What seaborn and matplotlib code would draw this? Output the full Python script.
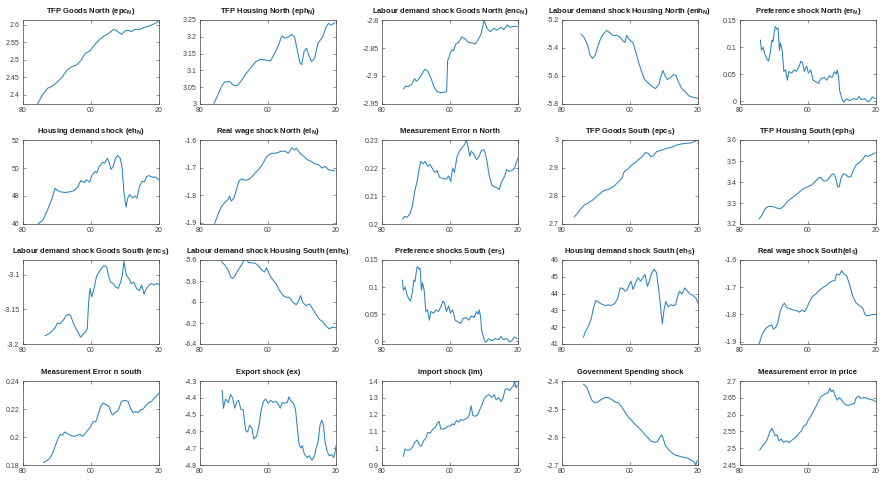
import matplotlib
matplotlib.use("Agg")
import matplotlib.pyplot as plt
import seaborn as sns
from matplotlib.ticker import FuncFormatter

# ---- data (year, value) ----
epc_N_yr = [1984.2, 1985.8, 1987.2, 1988.6, 1990.1, 1991.5, 1992.9, 1994.3, 1995.8, 1997.2, 1998.3, 1999.6,
            2001.0, 2002.4, 2003.8, 2005.3, 2006.5, 2007.2, 2008.1, 2009.1, 2010.0, 2011.0, 2011.9, 2012.9,
            2014.3, 2015.7, 2017.1, 2018.6, 2019.8]
epc_N = [2.372, 2.40, 2.418, 2.424, 2.436, 2.45, 2.47, 2.48, 2.485, 2.50, 2.518, 2.525,
         2.542, 2.557, 2.568, 2.576, 2.586, 2.586, 2.579, 2.573, 2.583, 2.584, 2.581, 2.587,
         2.587, 2.593, 2.597, 2.603, 2.61]

eph_N_yr = [1984.1, 1985.3, 1986.3, 1987.2, 1988.7, 1989.6, 1990.8, 1992.0, 1993.5, 1994.9, 1996.4, 1997.8,
            1999.3, 2000.7, 2001.7, 2002.9, 2004.1, 2004.9, 2006.0, 2007.0, 2007.8, 2008.6, 2009.4, 2009.9,
            2010.6, 2011.3, 2012.0, 2012.8, 2013.7, 2014.7, 2016.1, 2017.1, 2017.8, 2018.6, 2019.7]
eph_N = [3.002, 3.028, 3.052, 3.065, 3.067, 3.057, 3.054, 3.067, 3.09, 3.107, 3.126, 3.133,
         3.131, 3.128, 3.146, 3.171, 3.203, 3.196, 3.20, 3.207, 3.20, 3.161, 3.122, 3.117,
         3.156, 3.166, 3.146, 3.126, 3.136, 3.181, 3.20, 3.23, 3.24, 3.235, 3.242]

enc_N_yr = [1986.3, 1987.0, 1987.6, 1988.6, 1989.0, 1989.6, 1990.1, 1990.6, 1991.6, 1992.6, 1993.4, 1994.4,
            1995.4, 1996.3, 1997.3, 1998.3, 1999.0, 1999.3, 1999.7, 2000.0, 2000.5, 2001.0, 2001.7, 2002.5,
            2003.5, 2004.5, 2005.4, 2006.4, 2007.4, 2008.4, 2009.2, 2010.0, 2010.9, 2011.9, 2012.9,
            2013.9, 2014.9, 2015.8, 2016.8, 2017.8, 2018.8, 2019.8]
enc_N = [-2.923, -2.918, -2.919, -2.916, -2.912, -2.905, -2.909, -2.907, -2.898, -2.888, -2.891, -2.904,
         -2.921, -2.928, -2.93, -2.929, -2.928, -2.873, -2.866, -2.861, -2.853, -2.855, -2.843, -2.84,
         -2.83, -2.834, -2.84, -2.841, -2.843, -2.834, -2.824, -2.801, -2.815, -2.821, -2.815,
         -2.818, -2.813, -2.817, -2.809, -2.813, -2.811, -2.812]

enh_N_yr = [1985.5, 1986.5, 1987.5, 1988.2, 1989.0, 1989.8, 1990.5, 1991.5, 1992.5, 1993.2, 1994.0, 1995.0,
            1996.0, 1997.0, 1998.0, 1998.5, 1999.0, 1999.8, 2000.8, 2001.5, 2002.5, 2003.5, 2004.3, 2005.3,
            2006.5, 2007.5, 2008.5, 2009.2, 2009.7, 2010.3, 2011.0, 2012.0, 2012.8, 2013.5, 2014.2,
            2015.2, 2016.2, 2017.2, 2018.2, 2019.2, 2020.0]
enh_N = [-5.30, -5.325, -5.375, -5.45, -5.475, -5.45, -5.39, -5.325, -5.29, -5.275, -5.29, -5.31,
         -5.31, -5.32, -5.35, -5.36, -5.31, -5.34, -5.36, -5.41, -5.50, -5.575, -5.625, -5.65,
         -5.675, -5.69, -5.66, -5.595, -5.56, -5.60, -5.625, -5.61, -5.59, -5.595, -5.64,
         -5.69, -5.71, -5.74, -5.75, -5.755, -5.76]

er_yr = [1986.0, 1986.3, 1986.8, 1987.3, 1987.9, 1988.4, 1988.9, 1989.4, 1989.7, 1990.1, 1990.4, 1990.9,
         1991.2, 1991.6, 1991.9, 1992.4, 1992.9, 1993.4, 1993.9, 1994.4, 1995.2, 1995.9, 1996.6, 1997.4,
         1997.9, 1998.4, 1998.9, 1999.6, 2000.1, 2000.8, 2001.5, 2002.3, 2003.1, 2003.8, 2004.8,
         2005.5, 2006.3, 2007.1, 2007.8, 2008.3, 2008.6, 2009.0, 2009.3, 2010.0, 2010.5, 2011.3,
         2012.3, 2013.3, 2014.3, 2015.0, 2015.7, 2016.7, 2017.5, 2018.2, 2018.9, 2019.7]
er_N = [0.113, 0.094, 0.100, 0.087, 0.078, 0.074, 0.090, 0.113, 0.110, 0.129, 0.138, 0.133,
        0.135, 0.094, 0.108, 0.094, 0.055, 0.058, 0.039, 0.055, 0.052, 0.058, 0.055, 0.065,
        0.074, 0.071, 0.055, 0.065, 0.052, 0.058, 0.039, 0.036, 0.033, 0.042, 0.044,
        0.039, 0.047, 0.044, 0.055, 0.050, 0.058, 0.045, 0.020, 0.0045, -0.002, 0.0045,
        0.001, 0.005, 0.003, 0.009, 0.003, 0.005, -0.001, 0.001, 0.008, 0.005]
er_S = list(er_N)  # the two preference shock panels are the same in the source

eh_N_yr = [1984.2, 1985.8, 1987.2, 1988.5, 1989.4, 1990.1, 1991.0, 1992.4, 1993.9, 1995.1, 1996.1, 1997.0,
           1998.0, 1998.6, 1999.6, 2000.2, 2001.2, 2001.7, 2002.4, 2003.4, 2004.0, 2004.8, 2005.4,
           2005.9, 2006.5, 2007.2, 2007.8, 2008.6, 2009.2, 2009.7, 2010.3, 2010.8, 2011.4, 2012.2,
           2012.9, 2013.5, 2014.3, 2015.0, 2015.7, 2016.4, 2017.1, 2018.1, 2019.0, 2020.0]
eh_N = [45.95, 46.27, 47.0, 47.8, 48.55, 48.4, 48.3, 48.25, 48.3, 48.4, 48.65, 49.1,
        48.95, 49.15, 49.0, 49.45, 49.75, 49.65, 50.1, 50.4, 50.35, 50.7, 50.35,
        49.9, 50.1, 50.7, 50.9, 50.7, 49.9, 48.2, 47.2, 47.85, 48.1, 47.85,
        48.0, 47.85, 48.7, 49.05, 49.0, 49.4, 49.45, 49.35, 49.35, 49.15]

el_N_yr = [1984.3, 1985.3, 1986.3, 1987.2, 1988.2, 1988.7, 1989.2, 1989.9, 1990.6, 1991.4, 1992.3, 1993.3,
           1994.3, 1995.2, 1996.2, 1997.2, 1998.3, 1999.3, 2000.2, 2001.2, 2002.4, 2003.6, 2004.9,
           2006.0, 2007.0, 2007.8, 2008.4, 2009.4, 2010.6, 2011.6, 2012.8, 2013.7, 2014.9, 2015.9,
           2016.8, 2017.8, 2018.7, 2019.7]
el_N = [-1.903, -1.87, -1.842, -1.828, -1.816, -1.804, -1.822, -1.813, -1.786, -1.75, -1.741, -1.746,
        -1.744, -1.734, -1.72, -1.708, -1.69, -1.666, -1.654, -1.648, -1.648, -1.642, -1.64,
        -1.648, -1.628, -1.636, -1.63, -1.648, -1.66, -1.672, -1.678, -1.686, -1.69, -1.702,
        -1.696, -1.708, -1.71, -1.712]

men_N_yr = [1986.0, 1986.7, 1987.4, 1988.2, 1988.9, 1989.6, 1990.4, 1990.9, 1991.4, 1992.1, 1992.7, 1993.4,
            1994.2, 1994.9, 1995.6, 1996.2, 1996.9, 1997.9, 1998.9, 1999.6, 2000.2, 2000.8, 2001.3,
            2002.1, 2002.8, 2003.5, 2004.3, 2004.8, 2005.3, 2005.8, 2006.3, 2007.1, 2007.8, 2008.5,
            2009.3, 2010.1, 2010.8, 2011.5, 2012.3, 2013.1, 2013.8, 2014.5, 2015.2, 2016.0, 2016.7,
            2017.4, 2018.2, 2019.0, 2019.5, 2020.0]
men_N = [0.2017, 0.2027, 0.2024, 0.2036, 0.2063, 0.2115, 0.2157, 0.2194, 0.2224, 0.2215, 0.2224, 0.2206,
         0.2212, 0.2196, 0.2184, 0.2191, 0.2167, 0.2163, 0.2160, 0.2172, 0.2151, 0.2200, 0.2184,
         0.2242, 0.2260, 0.2272, 0.2284, 0.2300, 0.2278, 0.2242, 0.2260, 0.2248, 0.2230, 0.2240,
         0.2264, 0.2264, 0.2230, 0.2175, 0.2139, 0.2133, 0.2129, 0.2123, 0.2151, 0.2169, 0.2194,
         0.2188, 0.2191, 0.2200, 0.2220, 0.2236]

epc_S_yr = [1983.6, 1984.4, 1985.4, 1986.6, 1987.8, 1989.3, 1990.7, 1992.2, 1993.7, 1995.1, 1996.6, 1997.6,
            1998.3, 1999.3, 2000.5, 2001.5, 2002.4, 2003.6, 2004.4, 2005.4, 2006.1, 2006.8, 2007.8,
            2009.3, 2010.7, 2012.2, 2013.7, 2015.1, 2016.6, 2018.0, 2019.5]
epc_S = [2.726, 2.736, 2.752, 2.768, 2.776, 2.788, 2.804, 2.819, 2.824, 2.833, 2.851, 2.863,
         2.887, 2.895, 2.911, 2.919, 2.929, 2.94, 2.955, 2.952, 2.94, 2.943, 2.958,
         2.964, 2.97, 2.974, 2.982, 2.986, 2.988, 2.99, 2.998]

eph_S_yr = [1985.6, 1986.4, 1987.4, 1988.4, 1989.6, 1990.6, 1991.8, 1992.8, 1993.8, 1995.0, 1996.3, 1997.5,
            1998.7, 2000.0, 2001.0, 2002.0, 2003.0, 2003.7, 2004.5, 2005.5, 2006.2, 2006.9, 2007.6,
            2008.2, 2008.7, 2009.2, 2009.7, 2010.4, 2011.2, 2011.9, 2012.6, 2013.4, 2014.2, 2015.2,
            2016.2, 2016.8, 2017.8, 2018.8, 2019.8]
eph_S = [3.224, 3.24, 3.273, 3.284, 3.284, 3.277, 3.273, 3.284, 3.305, 3.321, 3.337, 3.353,
         3.369, 3.377, 3.385, 3.40, 3.418, 3.423, 3.406, 3.405, 3.418, 3.434, 3.439,
         3.418, 3.377, 3.377, 3.418, 3.439, 3.434, 3.423, 3.426, 3.458, 3.482, 3.494,
         3.51, 3.526, 3.523, 3.531, 3.539]

enc_S_yr = [1986.5, 1987.4, 1988.4, 1989.4, 1990.1, 1990.9, 1991.8, 1992.6, 1993.3, 1994.0, 1994.8, 1995.6,
            1996.2, 1996.9, 1997.7, 1998.5, 1998.9, 1999.3, 1999.7, 2000.2, 2000.9, 2001.6, 2002.4,
            2003.1, 2003.8, 2004.6, 2005.2, 2005.8, 2006.5, 2007.3, 2008.0, 2008.7, 2009.2, 2009.7,
            2010.4, 2011.2, 2011.9, 2012.6, 2013.4, 2014.2, 2014.9, 2015.6, 2016.3, 2017.1, 2017.8,
            2018.5, 2019.3, 2020.0]
enc_S = [-3.188, -3.186, -3.182, -3.177, -3.170, -3.171, -3.166, -3.160, -3.157, -3.159, -3.170, -3.178,
         -3.183, -3.190, -3.186, -3.182, -3.178, -3.140, -3.120, -3.132, -3.120, -3.103, -3.096,
         -3.091, -3.087, -3.089, -3.103, -3.111, -3.113, -3.118, -3.120, -3.111, -3.101, -3.081,
         -3.101, -3.106, -3.113, -3.111, -3.120, -3.123, -3.115, -3.128, -3.120, -3.115, -3.113,
         -3.115, -3.113, -3.114]

enh_S_yr = [1986.3, 1987.3, 1988.3, 1989.0, 1989.6, 1990.2, 1991.2, 1992.2, 1993.0, 1993.7, 1994.3, 1995.3,
            1996.3, 1997.3, 1998.2, 1999.0, 1999.6, 2000.5, 2001.5, 2002.4, 2003.4, 2004.4, 2005.4,
            2006.3, 2007.3, 2008.3, 2009.0, 2009.6, 2010.2, 2011.2, 2012.2, 2013.2, 2014.1, 2015.1,
            2016.1, 2017.1, 2018.0, 2019.0, 2020.0]
enh_S = [-5.616, -5.648, -5.697, -5.761, -5.777, -5.755, -5.697, -5.648, -5.60, -5.594, -5.626, -5.626,
         -5.632, -5.658, -5.697, -5.713, -5.674, -5.745, -5.794, -5.826, -5.89, -5.939, -5.955,
         -5.955, -6.003, -6.026, -5.987, -5.939, -6.003, -6.035, -6.019, -6.068, -6.116, -6.165,
         -6.187, -6.229, -6.255, -6.239, -6.245]

eh_S_yr = [1986.3, 1986.8, 1987.8, 1988.6, 1989.3, 1990.0, 1990.7, 1991.7, 1992.7, 1993.7, 1994.6, 1995.6,
           1996.4, 1997.1, 1997.9, 1998.5, 1999.2, 1999.8, 2000.3, 2000.9, 2001.6, 2002.4, 2003.1,
           2003.9, 2004.4, 2005.1, 2005.7, 2006.3, 2007.1, 2007.8, 2008.5, 2009.1, 2009.5, 2010.0,
           2010.5, 2011.2, 2012.0, 2012.7, 2013.4, 2014.0, 2014.6, 2015.3, 2016.1, 2016.8, 2017.6,
           2018.5, 2019.5, 2020.0]
eh_S = [41.4, 41.7, 42.07, 42.5, 43.2, 43.6, 43.5, 43.37, 43.29, 43.33, 43.29, 43.43,
        43.73, 44.34, 44.3, 44.14, 44.24, 44.54, 44.74, 44.24, 44.64, 44.95, 44.74,
        44.99, 45.15, 44.44, 44.74, 45.19, 45.45, 45.25, 44.14, 43.02, 42.21, 43.02,
        43.53, 43.23, 43.33, 43.29, 43.33, 43.83, 44.14, 43.98, 44.34, 44.18, 43.98,
        43.9, 43.7, 43.43]

el_S_yr = [1985.6, 1986.6, 1987.6, 1988.6, 1989.4, 1989.8, 1990.6, 1991.1, 1991.8, 1992.6, 1993.1, 1993.8,
           1994.8, 1995.7, 1996.7, 1997.5, 1998.3, 1999.0, 1999.7, 2000.5, 2001.3, 2002.3, 2003.3,
           2004.3, 2005.2, 2006.2, 2007.2, 2007.9, 2008.4, 2009.2, 2009.9, 2010.6, 2011.4, 2012.2,
           2013.2, 2014.2, 2015.1, 2016.1, 2016.8, 2017.5, 2018.5, 2019.8]
el_S = [-1.909, -1.871, -1.852, -1.842, -1.84, -1.855, -1.846, -1.83, -1.79, -1.765, -1.759, -1.775,
        -1.78, -1.784, -1.787, -1.792, -1.784, -1.79, -1.775, -1.752, -1.734, -1.725, -1.712,
        -1.702, -1.696, -1.684, -1.677, -1.675, -1.652, -1.655, -1.64, -1.652, -1.659, -1.69,
        -1.734, -1.759, -1.767, -1.777, -1.802, -1.805, -1.802, -1.80]

mes_S_yr = [1986.0, 1986.9, 1987.9, 1988.7, 1989.4, 1990.1, 1990.9, 1991.6, 1992.3, 1993.1, 1994.0, 1995.0,
            1995.9, 1996.7, 1997.5, 1998.3, 1999.2, 1999.9, 2000.6, 2001.4, 2002.1, 2002.8, 2003.6,
            2004.5, 2005.3, 2005.8, 2006.3, 2007.0, 2007.7, 2008.3, 2008.9, 2009.9, 2010.9, 2011.6,
            2012.4, 2013.2, 2013.9, 2014.5, 2015.3, 2016.3, 2017.1, 2017.8, 2018.4, 2019.2, 2020.0]
mes_S = [0.1818, 0.1830, 0.1847, 0.1883, 0.1932, 0.1975, 0.2019, 0.2012, 0.2036, 0.2024, 0.2012, 0.2004,
         0.2012, 0.2019, 0.2004, 0.2024, 0.2053, 0.2073, 0.2109, 0.2109, 0.2157, 0.2218, 0.2242,
         0.2230, 0.2218, 0.2182, 0.2157, 0.2174, 0.2182, 0.2206, 0.2254, 0.2262, 0.2254, 0.2206,
         0.2174, 0.2182, 0.2174, 0.2194, 0.2199, 0.2230, 0.2247, 0.2254, 0.2271, 0.2291, 0.2315]

ex_yr = [1986.5, 1986.9, 1987.5, 1988.3, 1989.0, 1989.6, 1990.2, 1990.9, 1991.4, 1992.0, 1992.7, 1993.4,
         1994.0, 1994.6, 1995.3, 1995.8, 1996.6, 1997.3, 1998.0, 1998.7, 1999.3, 2000.0, 2000.8,
         2001.5, 2002.2, 2002.9, 2003.6, 2004.2, 2004.9, 2005.7, 2006.1, 2006.8, 2007.5, 2008.1,
         2008.6, 2009.1, 2009.6, 2010.1, 2010.7, 2011.5, 2012.2, 2012.9, 2013.7, 2014.1, 2014.8,
         2015.3, 2015.8, 2016.3, 2016.8, 2017.4, 2018.0, 2018.7, 2019.3, 2019.8, 2020.0]
ex = [-4.355, -4.462, -4.407, -4.428, -4.381, -4.401, -4.462, -4.421, -4.415, -4.468, -4.472, -4.594,
      -4.604, -4.563, -4.583, -4.644, -4.63, -4.573, -4.472, -4.421, -4.407, -4.432, -4.415,
      -4.428, -4.421, -4.432, -4.462, -4.428, -4.432, -4.428, -4.395, -4.421, -4.432, -4.472,
      -4.573, -4.675, -4.699, -4.685, -4.735, -4.755, -4.745, -4.772, -4.745, -4.705, -4.654,
      -4.563, -4.533, -4.563, -4.664, -4.719, -4.745, -4.739, -4.755, -4.715, -4.685]

im_yr = [1986.3, 1986.8, 1987.4, 1988.1, 1988.8, 1989.6, 1990.3, 1991.1, 1991.6, 1992.2, 1992.8, 1993.5,
         1994.2, 1995.0, 1995.7, 1996.3, 1996.8, 1997.3, 1998.0, 1998.7, 1999.3, 2000.0, 2000.7,
         2001.2, 2001.9, 2002.6, 2003.2, 2003.9, 2004.6, 2005.2, 2005.7, 2006.2, 2006.7, 2007.4,
         2008.1, 2008.7, 2009.4, 2010.1, 2010.9, 2011.6, 2012.3, 2013.0, 2013.6, 2014.3, 2015.0,
         2015.6, 2016.2, 2016.9, 2017.5, 2018.2, 2018.7, 2019.0, 2019.4, 2019.8]
im = [0.951, 0.996, 0.988, 0.988, 1.002, 1.033, 1.049, 1.016, 1.012, 1.043, 1.057, 1.094,
      1.09, 1.114, 1.124, 1.151, 1.159, 1.114, 1.114, 1.118, 1.131, 1.131, 1.145,
      1.139, 1.165, 1.155, 1.171, 1.165, 1.176, 1.18, 1.20, 1.253, 1.196, 1.19,
      1.196, 1.227, 1.257, 1.298, 1.314, 1.318, 1.302, 1.318, 1.288, 1.302, 1.278,
      1.298, 1.349, 1.355, 1.343, 1.363, 1.369, 1.40, 1.359, 1.376]

gs_yr = [1986.3, 1987.3, 1988.0, 1988.8, 1989.6, 1990.5, 1991.2, 1991.9, 1992.7, 1993.7, 1994.6, 1995.6,
         1996.6, 1997.6, 1998.5, 1999.5, 2000.5, 2001.5, 2002.4, 2003.4, 2004.4, 2005.4, 2006.3,
         2007.3, 2008.1, 2008.8, 2009.3, 2009.8, 2010.4, 2011.2, 2012.2, 2013.2, 2014.1, 2015.1,
         2016.1, 2017.1, 2018.0, 2018.8, 2019.3, 2019.8]
gs = [-2.411, -2.423, -2.445, -2.469, -2.478, -2.475, -2.469, -2.463, -2.459, -2.459, -2.466, -2.475,
      -2.478, -2.493, -2.511, -2.529, -2.541, -2.555, -2.565, -2.577, -2.592, -2.604, -2.616,
      -2.619, -2.616, -2.601, -2.592, -2.607, -2.631, -2.643, -2.655, -2.664, -2.667, -2.671,
      -2.673, -2.676, -2.683, -2.689, -2.70, -2.683]

mep_yr = [1985.8, 1986.4, 1987.1, 1987.8, 1988.4, 1988.9, 1989.4, 1989.9, 1990.4, 1990.9, 1991.4, 1992.1,
          1992.8, 1993.6, 1994.4, 1995.0, 1995.7, 1996.5, 1997.3, 1998.1, 1998.8, 1999.5, 2000.0,
          2000.7, 2001.5, 2002.3, 2003.0, 2003.8, 2004.5, 2005.2, 2005.9, 2006.4, 2006.9, 2007.4,
          2007.9, 2008.6, 2009.2, 2009.9, 2010.6, 2011.4, 2012.2, 2012.9, 2013.6, 2014.2, 2014.9,
          2015.6, 2016.4, 2017.4, 2018.3, 2019.3, 2020.0]
mep = [2.494, 2.504, 2.512, 2.522, 2.537, 2.552, 2.559, 2.547, 2.537, 2.54, 2.522, 2.527,
       2.517, 2.522, 2.517, 2.522, 2.527, 2.534, 2.544, 2.552, 2.567, 2.57, 2.583,
       2.593, 2.608, 2.623, 2.638, 2.653, 2.658, 2.663, 2.665, 2.678, 2.668, 2.673,
       2.658, 2.643, 2.651, 2.643, 2.633, 2.628, 2.628, 2.631, 2.633, 2.651, 2.655,
       2.648, 2.651, 2.648, 2.645, 2.643, 2.638]

titles = [
    r"TFP Goods North (epc$_\mathbf{N}$)", r"TFP Housing North (eph$_\mathbf{N}$)",
    r"Labour demand shock Goods North (enc$_\mathbf{N}$)",
    r"Labour demand shock Housing North (enh$_\mathbf{N}$)", r"Preference shock North (er$_\mathbf{N}$)",
    r"Housing demand shock (eh$_\mathbf{N}$)", r"Real wage shock North (el$_\mathbf{N}$)",
    "Measurement Error n North", r"TFP Goods South (epc$_\mathbf{S}$)", r"TFP Housing South (eph$_\mathbf{S}$)",
    r"Labour demand shock Goods South (enc$_\mathbf{S}$)",
    r"Labour demand shock Housing South (enh$_\mathbf{S}$)", r"Preference shocks South (er$_\mathbf{S}$)",
    r"Housing demand shock South (eh$_\mathbf{S}$)", r"Real wage shock South(el$_\mathbf{S}$)",
    "Measurement Error n south", "Export shock (ex)", "Import shock (im)",
    "Government Spending shock", "Measurement error in price",
]
series = [
    (epc_N_yr, epc_N), (eph_N_yr, eph_N), (enc_N_yr, enc_N), (enh_N_yr, enh_N), (er_yr, er_N),
    (eh_N_yr, eh_N), (el_N_yr, el_N), (men_N_yr, men_N), (epc_S_yr, epc_S), (eph_S_yr, eph_S),
    (enc_S_yr, enc_S), (enh_S_yr, enh_S), (er_yr, er_S), (eh_S_yr, eh_S), (el_S_yr, el_S),
    (mes_S_yr, mes_S), (ex_yr, ex), (im_yr, im), (gs_yr, gs), (mep_yr, mep),
]
ylims = [
    (2.373, 2.614), (3.0, 3.25), (-2.95, -2.8), (-5.8, -5.2), (-0.005, 0.15),
    (46, 52), (-1.905, -1.6), (0.2, 0.23), (2.7, 3.0), (3.2, 3.6),
    (-3.2, -3.079), (-6.4, -5.6), (-0.005, 0.15), (41, 46), (-1.909, -1.6),
    (0.18, 0.24), (-4.8, -4.3), (0.9, 1.4), (-2.7, -2.4), (2.45, 2.7),
]
yticks = [
    [2.4, 2.45, 2.5, 2.55, 2.6], [3, 3.05, 3.1, 3.15, 3.2, 3.25], [-2.95, -2.9, -2.85, -2.8],
    [-5.8, -5.6, -5.4, -5.2], [0, 0.05, 0.1, 0.15],
    [46, 48, 50, 52], [-1.9, -1.8, -1.7, -1.6], [0.2, 0.21, 0.22, 0.23], [2.7, 2.8, 2.9, 3],
    [3.2, 3.3, 3.4, 3.5, 3.6],
    [-3.2, -3.15, -3.1], [-6.4, -6.2, -6, -5.8, -5.6], [0, 0.05, 0.1, 0.15], [41, 42, 43, 44, 45, 46],
    [-1.9, -1.8, -1.7, -1.6],
    [0.18, 0.2, 0.22, 0.24], [-4.8, -4.7, -4.6, -4.5, -4.4, -4.3], [0.9, 1, 1.1, 1.2, 1.3, 1.4],
    [-2.7, -2.6, -2.5, -2.4], [2.45, 2.5, 2.55, 2.6, 2.65, 2.7],
]
xticks = [1980, 2000, 2020]
xticklabels = ["80", "00", "20"]

sns.set_style("ticks")
plt.rcParams.update({
    "font.family": ["Liberation Sans", "DejaVu Sans"],
    "mathtext.fontset": "custom",
    "mathtext.rm": "Liberation Sans",
    "mathtext.bf": "Liberation Sans:bold",
    "axes.unicode_minus": False,
    "xtick.direction": "in",
    "ytick.direction": "in",
})

W, H = 884, 480
fig = plt.figure(figsize=(W / 100, H / 100), dpi=100)
col_left = [23, 200, 382, 562, 740]
row_top = [20, 140, 260, 381]
ax_w, ax_h = 136, 84
fmt = FuncFormatter(lambda v, p: ("%g" % round(v, 4)))

for i, ((xs, ys), title) in enumerate(zip(series, titles)):
    r, c = divmod(i, 5)
    ax = fig.add_axes([col_left[c] / W, 1 - (row_top[r] + ax_h) / H, ax_w / W, ax_h / H])
    sns.lineplot(x=xs, y=ys, ax=ax, color="#2a84c0", linewidth=0.75, estimator=None, sort=False)
    ax.set_xlim(1980, 2020)
    ax.set_ylim(*ylims[i])
    ax.set_xticks(xticks)
    ax.set_xticklabels(xticklabels)
    ax.set_yticks(yticks[i])
    ax.yaxis.set_major_formatter(fmt)
    ax.tick_params(axis="both", labelsize=5, length=2, width=0.4, colors="#404040",
                   top=True, right=True, pad=2.5)
    for s in ax.spines.values():
        s.set_linewidth(0.5)
        s.set_color("#404040")
        s.set_visible(True)
    ax.set_title(title, fontsize=5.5, fontweight="bold", pad=5, color="#1a1a1a")
    ax.set_xlabel("")
    ax.set_ylabel("")

fig.savefig("out.png", dpi=100)
